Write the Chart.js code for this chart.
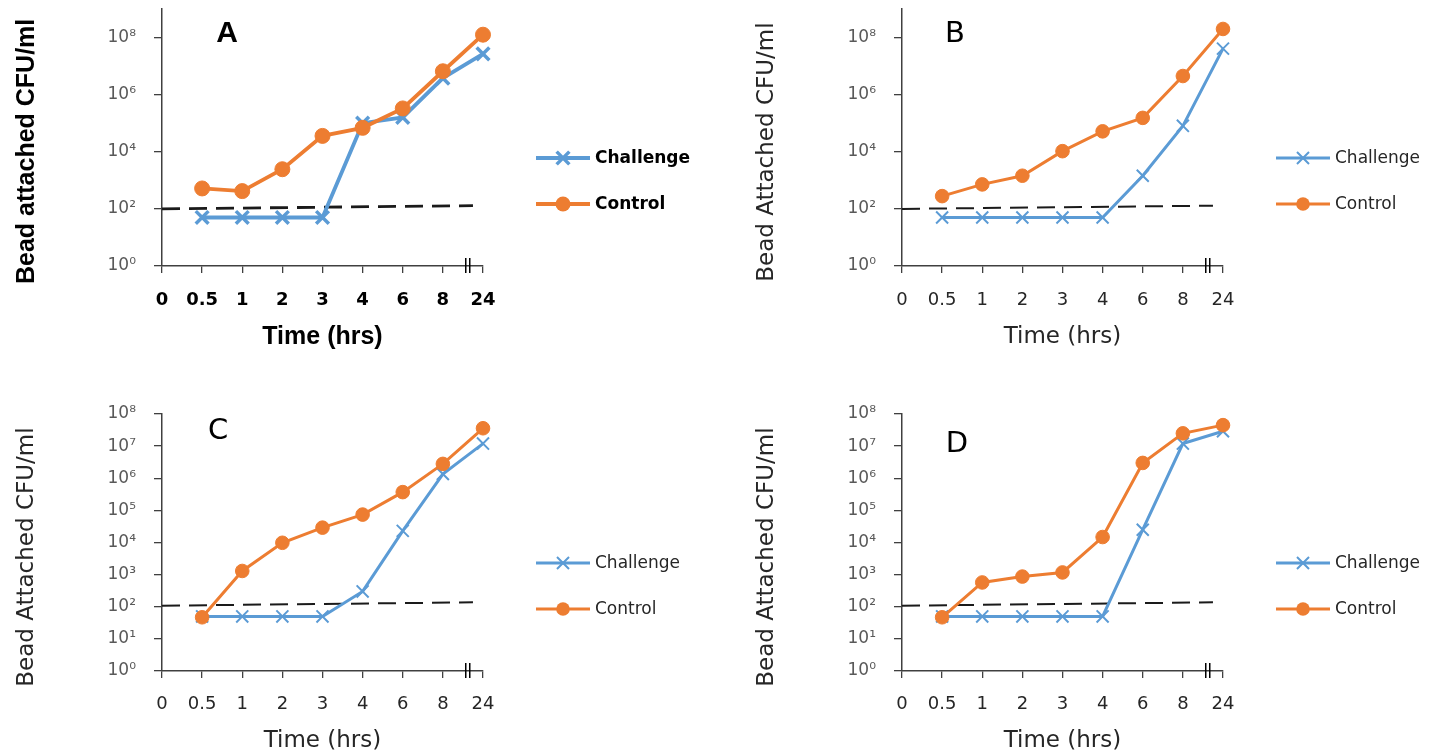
<!DOCTYPE html>
<html>
<head>
<meta charset="utf-8">
<script src="https://cdn.jsdelivr.net/npm/chart.js@4.4.0/dist/chart.umd.min.js"></script>
<style>
  html, body { margin: 0; padding: 0; background: #fff; }
  body { width: 1434px; height: 756px; position: relative; overflow: hidden; }
  .panel { position: absolute; width: 717px; height: 378px; }
</style>
</head>
<body>
<div class="panel" style="left:0;top:0"><canvas id="chartA" width="717" height="378"></canvas></div>
<div class="panel" style="left:740px;top:0"><canvas id="chartB" width="717" height="378"></canvas></div>
<div class="panel" style="left:0;top:378px"><canvas id="chartC" width="717" height="378"></canvas></div>
<div class="panel" style="left:740px;top:378px"><canvas id="chartD" width="717" height="378"></canvas></div>
<script>
// x axis categories (hours); the 8 -> 24 gap is marked with a break
const timeLabels = ['0', '0.5', '1', '2', '3', '4', '6', '8', '24'];
const sampleTimes = ['0.5', '1', '2', '3', '4', '6', '8', '24'];

// bead attached CFU/ml
const challengeA = [50, 50, 50, 50, 1.0e5, 1.6e5, 3.8e6, 2.7e7];
const controlA = [520, 420, 2450, 3.6e4, 6.9e4, 3.3e5, 6.6e6, 1.26e8];
const challengeB = [50, 50, 50, 50, 50, 1450, 8.1e4, 4.1e7];
const controlB = [280, 720, 1450, 1.05e4, 5.2e4, 1.54e5, 4.5e6, 2.0e8];
const challengeC = [50, 50, 50, 50, 300, 2.3e4, 1.35e6, 1.2e7];
const controlC = [47, 1300, 9800, 2.9e4, 7.4e4, 3.7e5, 2.8e6, 3.6e7];
const challengeD = [50, 50, 50, 50, 50, 2.5e4, 1.2e7, 2.9e7];
const controlD = [47, 570, 870, 1170, 1.48e4, 3.0e6, 2.5e7, 4.5e7];

// detection limit (dashed), from x=0 to just before the break
const limitX = [0, 7.75];
const limitAB = [100, 130];
const limitCD = [108, 137];

// y axis ticks
const yTicksAB = [1, 1e2, 1e4, 1e6, 1e8];
const yLabelsAB = ['10⁰', '10²', '10⁴', '10⁶', '10⁸'];
const yTicksCD = [1, 1e1, 1e2, 1e3, 1e4, 1e5, 1e6, 1e7, 1e8];
const yLabelsCD = ['10⁰', '10¹', '10²', '10³', '10⁴', '10⁵', '10⁶', '10⁷', '10⁸'];

const BLUE = '#5b9bd5';
const ORANGE = '#ed7d31';
const AXIS = '#404040';

function drawMarker(ctx, style, x, y, r, bw, color) {
  ctx.strokeStyle = color;
  ctx.fillStyle = color;
  ctx.lineWidth = bw;
  if (style === 'circle') {
    ctx.beginPath();
    ctx.arc(x, y, r, 0, Math.PI * 2);
    ctx.fill();
  } else {
    const d = r * Math.SQRT1_2;
    ctx.beginPath();
    ctx.moveTo(x - d, y - d); ctx.lineTo(x + d, y + d);
    ctx.moveTo(x - d, y + d); ctx.lineTo(x + d, y - d);
    ctx.stroke();
  }
}

// axis break, panel letter and the legend at the right
const decor = {
  id: 'decor',
  afterDatasetsDraw(chart, args, o) {
    const { ctx, chartArea: a, scales: { x } } = chart;
    ctx.save();
    const bx = x.getPixelForValue(o.breakAt);
    ctx.strokeStyle = '#000';
    ctx.lineWidth = 1.5;
    [-2, 2].forEach(dx => {
      ctx.beginPath();
      ctx.moveTo(bx + dx, a.bottom - 8);
      ctx.lineTo(bx + dx, a.bottom + 7);
      ctx.stroke();
    });

    ctx.fillStyle = '#000';
    ctx.font = o.letterFont;
    ctx.textAlign = 'center';
    ctx.textBaseline = 'middle';
    ctx.fillText(o.letter, a.left + o.letterPos[0], a.top + o.letterPos[1]);

    chart.data.datasets.filter(ds => ds.label).forEach((ds, i) => {
      const y = a.top + 149 + i * 46;
      ctx.strokeStyle = ds.borderColor;
      ctx.lineWidth = ds.borderWidth;
      ctx.beginPath();
      ctx.moveTo(a.right + 53, y);
      ctx.lineTo(a.right + 107, y);
      ctx.stroke();
      drawMarker(ctx, ds.pointStyle, a.right + 80, y, ds.pointRadius, ds.pointBorderWidth, ds.borderColor);
      ctx.fillStyle = o.legendColor;
      ctx.font = o.legendFont;
      ctx.textAlign = 'left';
      ctx.fillText(ds.label, a.right + 112, y + 1);
    });
    ctx.restore();
  }
};

function points(values) {
  return values.map((v, i) => ({ x: timeLabels.indexOf(sampleTimes[i]), y: v }));
}

function noPadding(s) {
  s.paddingTop = 0;
  s.paddingBottom = 0;
  s.paddingLeft = 0;
  s.paddingRight = 0;
}

function makePanel(id, p) {
  const bold = p.bold;
  const tickFamily = '"DejaVu Sans", Verdana, sans-serif';
  const titleFont = bold
    ? { family: '"Liberation Sans", Arial, sans-serif', size: 25, weight: 'bold' }
    : { family: tickFamily, size: 23, weight: 'normal' };
  const textColor = bold ? '#000' : '#262626';
  const lw = bold ? 3.8 : 3;

  return new Chart(document.getElementById(id), {
    type: 'line',
    data: {
      datasets: [{
        label: 'Challenge',
        data: points(p.challenge),
        borderColor: BLUE,
        backgroundColor: BLUE,
        borderWidth: lw,
        pointStyle: 'crossRot',
        pointRadius: bold ? 9 : 8.5,
        pointBorderWidth: bold ? 3.5 : 2,
        order: 1,
        clip: false
      }, {
        label: 'Control',
        data: points(p.control),
        borderColor: ORANGE,
        backgroundColor: ORANGE,
        borderWidth: lw,
        pointStyle: 'circle',
        pointRadius: bold ? 7.5 : 6.8,
        pointBorderWidth: 1,
        order: 0,
        clip: false
      }, {
        label: '',
        data: limitX.map((x, i) => ({ x, y: p.limit[i] })),
        borderColor: '#1a1a1a',
        borderWidth: bold ? 2.8 : 2,
        borderDash: [18, 9],
        pointRadius: 0,
        order: 2
      }]
    },
    options: {
      responsive: false,
      devicePixelRatio: 1,
      animation: false,
      layout: { autoPadding: false, padding: { left: 0, top: p.top, right: 234, bottom: 0 } },
      plugins: {
        legend: { display: false },
        tooltip: { enabled: false },
        decor: {
          breakAt: 7.62,
          letter: p.letter,
          letterPos: p.letterPos,
          letterFont: (bold ? 'bold 30px "Liberation Sans", Arial' : '29px "DejaVu Sans", Verdana') + ', sans-serif',
          legendFont: (bold ? 'bold 17px "DejaVu Sans"' : '17px "DejaVu Sans"') + ', sans-serif',
          legendColor: textColor
        }
      },
      scales: {
        x: {
          type: 'linear',
          min: 0,
          max: timeLabels.length - 1,
          afterBuildTicks: s => { s.ticks = timeLabels.map((_, i) => ({ value: i })); },
          afterFit: s => { s.height = p.xHeight; noPadding(s); },
          ticks: {
            callback: v => timeLabels[v],
            padding: p.xTickPad,
            color: textColor,
            maxRotation: 0,
            font: { family: tickFamily, size: 18, weight: bold ? 'bold' : 'normal' }
          },
          grid: { drawOnChartArea: false, drawTicks: true, tickLength: 7, color: AXIS, lineWidth: 1.3 },
          border: { display: true, color: AXIS, width: 1.5 },
          title: {
            display: true,
            text: 'Time (hrs)',
            color: textColor,
            font: titleFont,
            padding: { top: 0, bottom: p.xTitlePad }
          }
        },
        y: {
          type: 'logarithmic',
          min: 1,
          max: p.yMax,
          afterBuildTicks: s => { s.ticks = p.yTicks.map(v => ({ value: v })); },
          afterFit: s => { s.width = 162; noPadding(s); },
          ticks: {
            callback: (v, i) => p.yLabels[i],
            padding: 18,
            color: '#595959',
            font: { family: tickFamily, size: 17 }
          },
          grid: { drawOnChartArea: false, drawTicks: true, tickLength: 8, color: AXIS, lineWidth: 1.3 },
          border: { display: true, color: AXIS, width: 1.5 },
          title: {
            display: true,
            // trailing spaces push the rotated title a little below the axis middle
            text: p.yTitle + '    ',
            color: textColor,
            font: titleFont,
            padding: { top: bold ? 12 : 13, bottom: 0 }
          }
        }
      }
    },
    plugins: [decor]
  });
}

makePanel('chartA', {
  bold: true, letter: 'A', letterPos: [65, 25], top: 9, xHeight: 112, xTitlePad: 26, xTickPad: 17,
  challenge: challengeA, control: controlA, limit: limitAB,
  yMax: 1e9, yTicks: yTicksAB, yLabels: yLabelsAB, yTitle: 'Bead attached CFU/ml'
});
makePanel('chartB', {
  bold: false, letter: 'B', letterPos: [53, 25], top: 9, xHeight: 112, xTitlePad: 27, xTickPad: 17,
  challenge: challengeB, control: controlB, limit: limitAB,
  yMax: 1e9, yTicks: yTicksAB, yLabels: yLabelsAB, yTitle: 'Bead Attached CFU/ml'
});
makePanel('chartC', {
  bold: false, letter: 'C', letterPos: [56, 17], top: 36, xHeight: 85, xTitlePad: 1, xTickPad: 16,
  challenge: challengeC, control: controlC, limit: limitCD,
  yMax: 1e8, yTicks: yTicksCD, yLabels: yLabelsCD, yTitle: 'Bead Attached CFU/ml'
});
makePanel('chartD', {
  bold: false, letter: 'D', letterPos: [55, 30], top: 36, xHeight: 85, xTitlePad: 1, xTickPad: 16,
  challenge: challengeD, control: controlD, limit: limitCD,
  yMax: 1e8, yTicks: yTicksCD, yLabels: yLabelsCD, yTitle: 'Bead Attached CFU/ml'
});
</script>
</body>
</html>
